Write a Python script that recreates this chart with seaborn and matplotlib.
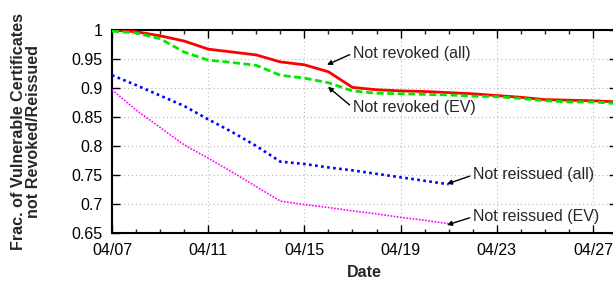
import matplotlib
matplotlib.use("Agg")
import matplotlib.pyplot as plt
import seaborn as sns
import pandas as pd
from matplotlib.ticker import MultipleLocator

# ---- data (April days) ----
days_rev = [7, 8, 9, 10, 11, 12, 13, 14, 15, 16, 17, 18, 19, 20, 21, 22, 23, 24, 25, 26, 27, 28]
not_revoked_all = [1.000, 0.997, 0.990, 0.981, 0.967, 0.962, 0.957, 0.945, 0.940, 0.928, 0.901,
                   0.897, 0.895, 0.894, 0.892, 0.890, 0.887, 0.884, 0.880, 0.879, 0.878, 0.876]
not_revoked_ev = [0.998, 0.995, 0.985, 0.962, 0.948, 0.944, 0.939, 0.922, 0.917, 0.909, 0.895,
                  0.891, 0.890, 0.889, 0.888, 0.886, 0.885, 0.882, 0.878, 0.876, 0.876, 0.873]
days_reis = [7, 8, 9, 10, 11, 12, 13, 14, 15, 16, 17, 18, 19, 20, 21]
not_reissued_all = [0.922, 0.905, 0.887, 0.869, 0.846, 0.824, 0.800, 0.773, 0.769, 0.763,
                    0.758, 0.752, 0.746, 0.740, 0.734]
not_reissued_ev = [0.897, 0.862, 0.832, 0.802, 0.779, 0.755, 0.730, 0.705, 0.699, 0.694,
                   0.688, 0.683, 0.677, 0.672, 0.666]

xtick_days = [7, 11, 15, 19, 23, 27]
xtick_labels = ["04/07", "04/11", "04/15", "04/19", "04/23", "04/27"]
ytick_vals = [0.65, 0.7, 0.75, 0.8, 0.85, 0.9, 0.95, 1.0]
ytick_labels = ["0.65", "0.7", "0.75", "0.8", "0.85", "0.9", "0.95", "1"]

sns.set_style("ticks")
plt.rcParams["font.family"] = ["Liberation Sans", "DejaVu Sans"]

fig = plt.figure(figsize=(6.13, 2.82), dpi=100)
ax = fig.add_axes([112 / 613, 1 - 233 / 282, 505 / 613, 203 / 282])

df_rev = pd.DataFrame({"day": days_rev, "all": not_revoked_all, "ev": not_revoked_ev})
df_reis = pd.DataFrame({"day": days_reis, "all": not_reissued_all, "ev": not_reissued_ev})

sns.lineplot(data=df_rev, x="day", y="all", ax=ax, color="#ff0000", lw=2.0, zorder=4)
sns.lineplot(data=df_rev, x="day", y="ev", ax=ax, color="#00e800", lw=2.0,
             linestyle=(0, (2.5, 1.3)), zorder=5)
sns.lineplot(data=df_reis, x="day", y="all", ax=ax, color="#0000ff", lw=1.9,
             linestyle=(0, (1.0, 1.3)), zorder=4)
sns.lineplot(data=df_reis, x="day", y="ev", ax=ax, color="#ff00ff", lw=1.2,
             linestyle=(0, (1.0, 0.9)), zorder=4)

ax.set_xlim(7, 28)
ax.set_ylim(0.65, 1.0)
ax.set_xticks(xtick_days)
ax.set_xticklabels(xtick_labels)
ax.set_yticks(ytick_vals)
ax.set_yticklabels(ytick_labels)
ax.xaxis.set_minor_locator(MultipleLocator(1))

ax.grid(True, which="major", color="#b8b8b8", linestyle=(0, (1, 2.5)), lw=0.8)
for s in ax.spines.values():
    s.set_linewidth(1.5)
    s.set_color("black")
ax.tick_params(axis="both", which="major", direction="in", length=6, width=1.0,
               labelsize=11.5, top=True, right=True, colors="black")
ax.tick_params(axis="x", which="major", pad=7)
ax.tick_params(axis="y", which="major", pad=6.5)
ax.tick_params(axis="x", which="minor", direction="in", length=3, width=1.0, top=True)

ax.set_xlabel("Date", fontweight="bold", fontsize=11.5)
ax.set_ylabel("Frac. of Vulnerable Certificates\nnot Revoked/Reissued", fontweight="bold",
              fontsize=11.6, linespacing=1.0)
ax.xaxis.label.set_va("center")
ax.yaxis.label.set_va("center")
ax.xaxis.set_label_coords(0.5, -(272.5 - 233) / 203)
ax.yaxis.set_label_coords(-(112 - 26) / 505, 0.5)

arrow = dict(arrowstyle="-|>", color="black", lw=1.0, mutation_scale=7,
             shrinkA=0, shrinkB=0, relpos=(0, 0.5))
fs = 11.5
ax.annotate("Not revoked (all)", xy=(15.94, 0.940), xytext=(17.02, 0.960),
            fontsize=fs, va="center", ha="left", arrowprops=arrow)
ax.annotate("Not revoked (EV)", xy=(15.98, 0.902), xytext=(17.02, 0.866),
            fontsize=fs, va="center", ha="left", arrowprops=arrow)
ax.annotate("Not reissued (all)", xy=(20.93, 0.7345), xytext=(22.01, 0.750),
            fontsize=fs, va="center", ha="left", arrowprops=arrow)
ax.annotate("Not reissued (EV)", xy=(20.93, 0.6638), xytext=(22.01, 0.678),
            fontsize=fs, va="center", ha="left", arrowprops=arrow)

fig.savefig("out.png", dpi=100)
